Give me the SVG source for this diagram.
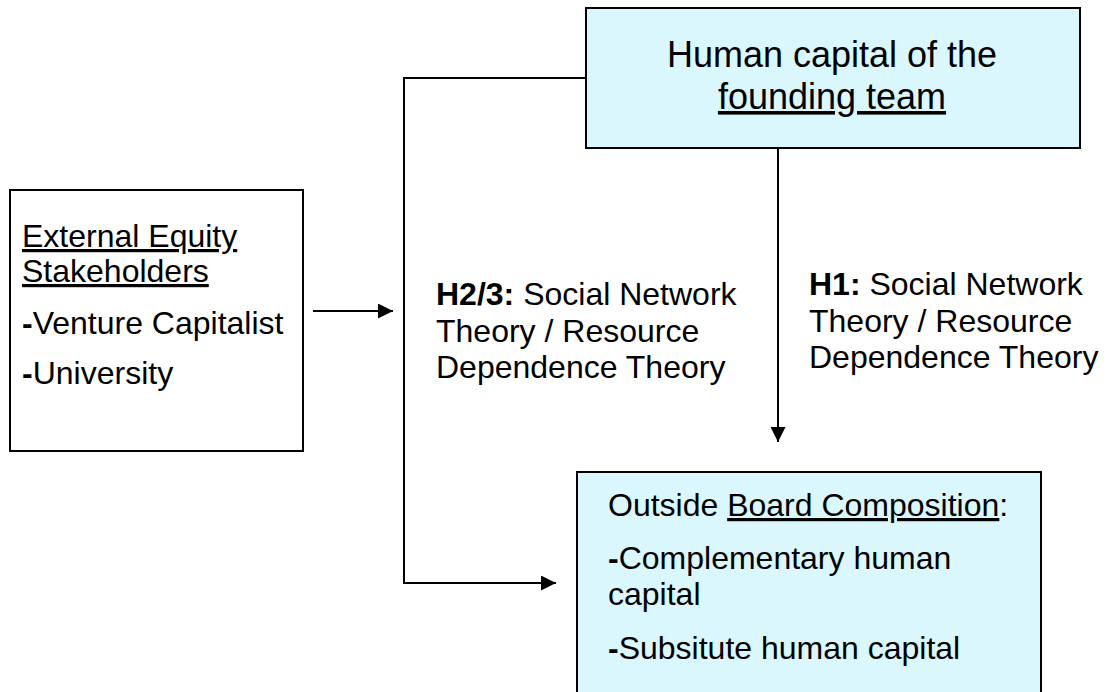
<svg xmlns="http://www.w3.org/2000/svg" width="1109" height="692" viewBox="0 0 1109 692">
<defs>
<style>
.box{stroke:#000;stroke-width:2}
.plain{fill:#fff}
.cyan{fill:#d9f7fd}
.t{font-family:"Liberation Sans",Arial,sans-serif;font-size:32px;fill:#000}
.big{font-size:36px}
.b{font-weight:bold}
.u{text-decoration:underline}
.conn{fill:none;stroke:#000;stroke-width:2}
</style>
<marker id="ah" viewBox="0 0 10 10" refX="10" refY="5" markerWidth="15" markerHeight="15" markerUnits="userSpaceOnUse" orient="auto">
<path d="M0,0 L10,5 L0,10 Z" fill="#000"/>
</marker>
</defs>
<rect width="1109" height="692" fill="#fff"/>
<g id="connectors">
<path class="conn" d="M313,311 H393" marker-end="url(#ah)"/>
<path class="conn" d="M586,78 H404 V583 H556" marker-end="url(#ah)"/>
<path class="conn" d="M778,149 V442" marker-end="url(#ah)"/>
</g>
<g id="stakeholders">
<rect class="box plain" x="10" y="190" width="293" height="261"/>
<text class="t" x="22" y="247"><tspan class="u">External Equity</tspan></text>
<text class="t" x="22" y="282"><tspan class="u">Stakeholders</tspan></text>
<text class="t" x="22" y="334"><tspan class="b">-</tspan>Venture Capitalist</text>
<text class="t" x="22" y="384"><tspan class="b">-</tspan>University</text>
</g>
<g id="human-capital">
<rect class="box cyan" x="586" y="8" width="494" height="140"/>
<text class="t big" x="832" y="67" text-anchor="middle">Human capital of the</text>
<text class="t big" x="832" y="109" text-anchor="middle"><tspan class="u">founding team</tspan></text>
</g>
<g id="board">
<rect class="box cyan" x="577" y="472" width="464" height="230"/>
<text class="t" x="608" y="516">Outside <tspan class="u">Board Composition</tspan>:</text>
<text class="t" x="608" y="569"><tspan class="b">-</tspan>Complementary human</text>
<text class="t" x="608" y="605">capital</text>
<text class="t" x="608" y="659"><tspan class="b">-</tspan>Subsitute human capital</text>
</g>
<g id="label-h23">
<text class="t" x="436" y="305"><tspan class="b">H2/3:</tspan> Social Network</text>
<text class="t" x="436" y="342">Theory / Resource</text>
<text class="t" x="436" y="378">Dependence Theory</text>
</g>
<g id="label-h1">
<text class="t" x="809" y="295"><tspan class="b">H1:</tspan> Social Network</text>
<text class="t" x="809" y="332">Theory / Resource</text>
<text class="t" x="809" y="368">Dependence Theory</text>
</g>
</svg>
